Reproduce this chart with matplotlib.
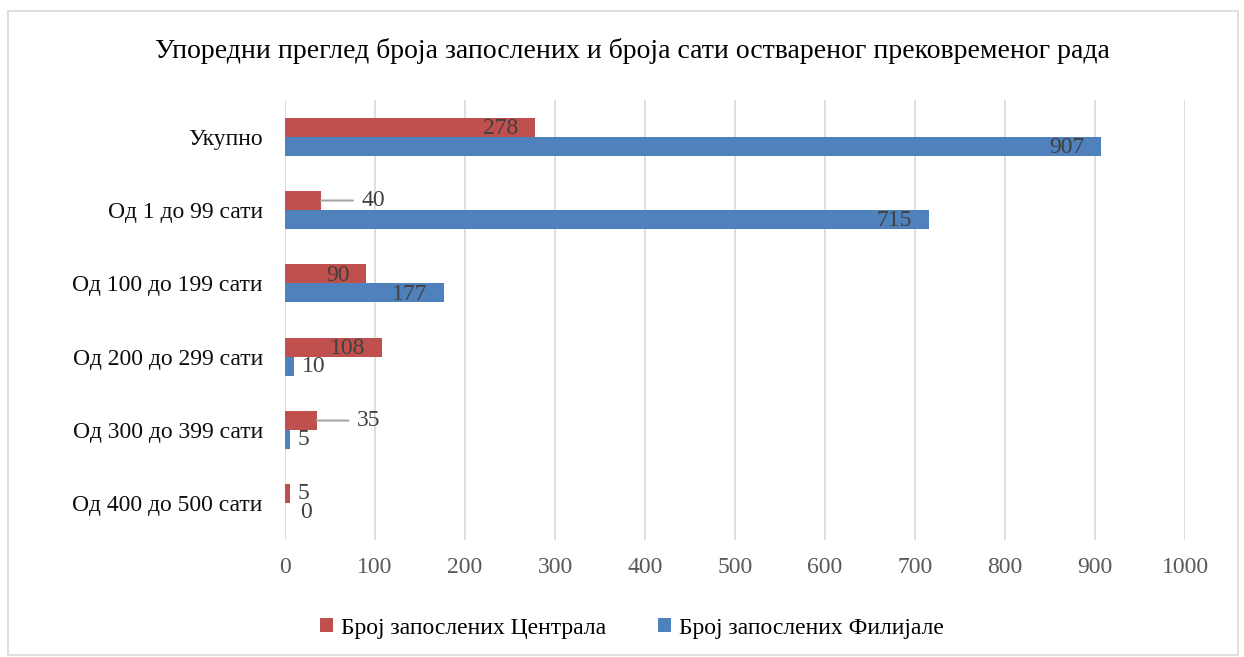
import matplotlib.pyplot as plt
import numpy as np
from matplotlib.patches import Rectangle

categories = ["Укупно", "Од 1 до 99 сати", "Од 100 до 199 сати",
              "Од 200 до 299 сати", "Од 300 до 399 сати", "Од 400 до 500 сати"]
centrala = [278, 40, 90, 108, 35, 5]
filijale = [907, 715, 177, 10, 5, 0]
series_names = ["Број запослених Централа", "Број запослених Филијале"]
title = "Упоредни преглед броја запослених и броја сати оствареног прековременог рада"

RED = "#C0504D"
BLUE = "#4F81BD"

plt.rcParams["font.family"] = ["Liberation Serif", "DejaVu Serif"]

fig = plt.figure(figsize=(12.44, 6.57), dpi=100)
ax = fig.add_axes([0.2291, 0.178, 0.7235, 0.6697])

y = np.arange(len(categories))
h = 0.26
bars_c = ax.barh(y - h / 2, centrala, height=h, color=RED, label=series_names[0], zorder=3)
bars_f = ax.barh(y + h / 2, filijale, height=h, color=BLUE, label=series_names[1], zorder=3)

ax.set_ylim(len(categories) - 0.5, -0.5)
ax.set_xlim(0, 1000)
ax.set_xticks(np.arange(0, 1001, 100))
ax.set_yticks(y)
ax.set_yticklabels(categories)
ax.tick_params(axis="both", length=0, labelsize=17, colors="#595959")
ax.tick_params(axis="y", pad=16, labelcolor="#0D0D0D")
ax.tick_params(axis="x", pad=12)
ax.grid(axis="x", color="#D9D9D9", linewidth=1.2, zorder=0)
for s in ax.spines.values():
    s.set_visible(False)

LBL = dict(fontsize=17, color="#404040", zorder=4, va="center")


def label_bars(vals, ypos):
    for v, yy in zip(vals, ypos):
        if v >= 90:
            # inside end
            ax.annotate(str(v), (v, yy), xytext=(-12, -1), textcoords="offset points",
                        ha="right", **LBL)
        elif v >= 30:
            # label pushed out with a leader line
            ax.annotate(str(v), (v, yy), xytext=(29, 0), textcoords="offset points",
                        ha="left", **LBL,
                        arrowprops=dict(arrowstyle="-", color="#A6A6A6", lw=1.5,
                                        shrinkA=4, shrinkB=0))
        else:
            ax.annotate(str(v), (v, yy), xytext=(6 if v else 11, 0), textcoords="offset points",
                        ha="left", **LBL)


label_bars(centrala, y - h / 2)
label_bars(filijale, y + h / 2)

fig.text(0.508, 0.923, title, ha="center", va="center", fontsize=20, color="black")

fig.legend(handles=[bars_c, bars_f], loc="center", bbox_to_anchor=(0.508, 0.044), ncol=2,
           frameon=False, fontsize=17, handlelength=0.55, handleheight=0.55,
           handletextpad=0.35, columnspacing=2.2)

fig.patches.append(Rectangle((8 / 1244, 2 / 657), 1230 / 1244, 644 / 657,
                             transform=fig.transFigure, fill=False,
                             edgecolor="#D9D9D9", linewidth=1.2))

fig.savefig("out.png", dpi=100)
